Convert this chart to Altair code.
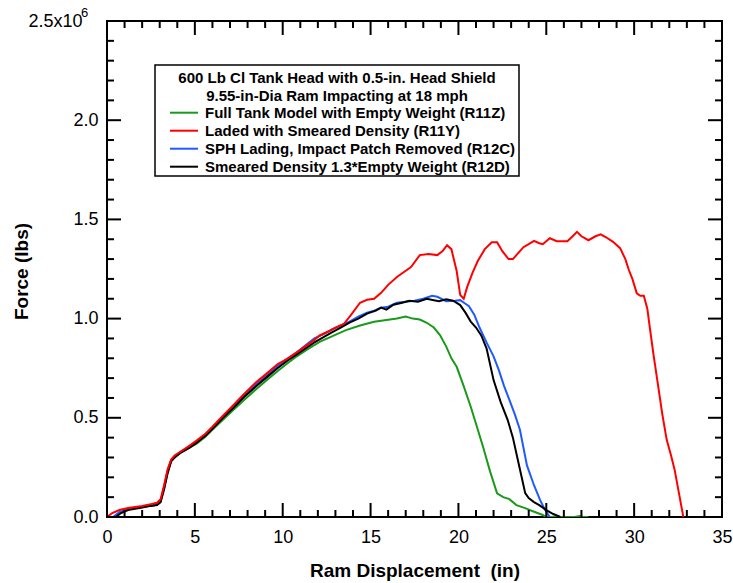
import altair as alt
import pandas as pd

# ---------------- data ----------------
series_names = [
    "Full Tank Model with Empty Weight (R11Z)",
    "Laded with Smeared Density (R11Y)",
    "SPH Lading, Impact Patch Removed (R12C)",
    "Smeared Density 1.3*Empty Weight (R12D)",
]
series_colors = ["#1a9a1a", "#ff0000", "#1e5aff", "#000000"]

# force in units of 1e6 lbs
green_x = [0.4, 0.8, 1.2, 2.0, 2.5, 2.85, 3.05, 3.25, 3.45, 3.65, 3.85, 4.2, 4.7, 5.1, 5.6, 6.0, 6.6, 7.2, 7.8,
           8.5, 9.1, 9.7, 10.2, 10.8, 11.4, 12.1, 12.8, 13.6, 14.4, 15.2, 16.1, 16.5, 17.0, 17.4, 17.8, 18.2,
           18.6, 18.95, 19.3, 19.6, 19.9, 20.3, 20.7, 21.0, 21.4, 21.8, 22.2, 22.55, 22.9, 23.3, 23.8, 24.2,
           24.5, 24.8, 25.0, 25.3, 25.6, 25.8, 26.2, 26.6, 26.9, 27.1, 27.4]
green_y = [0, 0.025, 0.04, 0.05, 0.058, 0.062, 0.08, 0.15, 0.23, 0.285, 0.30, 0.325, 0.35, 0.37, 0.405, 0.44,
           0.49, 0.54, 0.59, 0.645, 0.69, 0.735, 0.77, 0.81, 0.845, 0.883, 0.91, 0.942, 0.965, 0.984, 0.996,
           1.0, 1.01, 1.0, 0.995, 0.979, 0.955, 0.917, 0.86, 0.80, 0.757, 0.66, 0.556, 0.47, 0.354, 0.23,
           0.119, 0.10, 0.09, 0.06, 0.045, 0.03, 0.02, 0.01, 0, 0, 0.004, 0, 0, 0, 0.005, 0, 0]

red_x = [0, 0.3, 0.7, 1.2, 2.0, 2.5, 2.85, 3.05, 3.25, 3.45, 3.65, 3.85, 4.2, 4.7, 5.1, 5.6, 6.0, 6.6, 7.2, 7.8,
         8.5, 9.1, 9.7, 10.3, 10.8, 11.2, 11.7, 12.1, 12.6, 13.0, 13.5, 13.9, 14.4, 14.8, 15.2, 15.6, 16.0,
         16.5, 16.9, 17.3, 17.8, 18.3, 18.8, 19.1, 19.35, 19.6, 19.9, 20.1, 20.3, 20.5, 20.8, 21.1, 21.5, 21.9,
         22.2, 22.5, 22.85, 23.1, 23.4, 23.7, 24.0, 24.3, 24.6, 24.8, 25.2, 25.6, 26.2, 26.5, 26.75, 27.0,
         27.4, 27.8, 28.1, 28.4, 28.8, 29.2, 29.5, 29.7, 29.9, 30.15, 30.35, 30.55, 30.75, 30.9, 31.1, 31.3,
         31.6, 31.85, 32.1, 32.3, 32.55, 32.8]
red_y = [0, 0.02, 0.035, 0.045, 0.055, 0.065, 0.072, 0.09, 0.16, 0.24, 0.29, 0.31, 0.33, 0.36, 0.385, 0.42,
         0.455, 0.51, 0.565, 0.62, 0.68, 0.724, 0.77, 0.80, 0.83, 0.855, 0.885, 0.915, 0.935, 0.955, 0.975,
         1.02, 1.08, 1.095, 1.10, 1.13, 1.17, 1.21, 1.235, 1.26, 1.32, 1.325, 1.32, 1.34, 1.37, 1.35, 1.24,
         1.12, 1.10, 1.16, 1.23, 1.29, 1.35, 1.385, 1.385, 1.34, 1.30, 1.30, 1.33, 1.36, 1.375, 1.392, 1.38,
         1.375, 1.405, 1.39, 1.39, 1.415, 1.437, 1.415, 1.395, 1.415, 1.425, 1.41, 1.387, 1.355, 1.30, 1.245,
         1.20, 1.127, 1.115, 1.115, 1.05, 0.95, 0.82, 0.70, 0.52, 0.39, 0.31, 0.24, 0.12, 0]

blue_x = [0.35, 0.7, 1.2, 2.0, 2.5, 2.85, 3.05, 3.25, 3.45, 3.65, 3.85, 4.2, 4.7, 5.1, 5.6, 6.0, 6.6, 7.2, 7.8,
          8.5, 9.1, 9.7, 10.3, 10.8, 11.3, 11.8, 12.3, 12.8, 13.3, 13.8, 14.3, 14.8, 15.2, 15.6, 16.0, 16.5,
          17.0, 17.5, 18.0, 18.5, 18.8, 19.3, 19.8, 20.1, 20.4, 20.6, 20.9, 21.2, 21.6, 22.0, 22.3, 22.6, 22.9,
          23.2, 23.5, 23.9, 24.3, 24.65, 24.9, 25.2]
blue_y = [0, 0.025, 0.04, 0.05, 0.058, 0.062, 0.08, 0.15, 0.23, 0.285, 0.305, 0.33, 0.355, 0.38, 0.415, 0.45,
          0.505, 0.56, 0.615, 0.67, 0.715, 0.76, 0.80, 0.83, 0.865, 0.90, 0.92, 0.945, 0.965, 0.985, 1.01,
          1.03, 1.04, 1.055, 1.06, 1.08, 1.085, 1.09, 1.10, 1.115, 1.11, 1.088, 1.09, 1.093, 1.075, 1.063,
          1.02, 0.955, 0.88, 0.81, 0.74, 0.66, 0.59, 0.52, 0.44, 0.26, 0.16, 0.085, 0.04, 0]

black_x = [0.5, 0.8, 1.2, 2.0, 2.5, 2.85, 3.05, 3.25, 3.45, 3.65, 3.85, 4.2, 4.7, 5.1, 5.6, 6.0, 6.6, 7.2, 7.8,
           8.5, 9.1, 9.7, 10.3, 10.8, 11.3, 11.8, 12.3, 12.8, 13.3, 13.8, 14.3, 14.8, 15.3, 15.6, 15.9, 16.3,
           16.8, 17.2, 17.7, 18.2, 18.6, 18.9, 19.3, 19.7, 20.1, 20.4, 20.7, 21.0, 21.3, 21.6, 22.0, 22.4, 22.8,
           23.1, 23.35, 23.6, 23.8, 24.0, 24.3, 24.6, 25.0, 25.4, 25.8]
black_y = [0, 0.02, 0.035, 0.048, 0.056, 0.06, 0.075, 0.14, 0.22, 0.28, 0.30, 0.325, 0.35, 0.375, 0.41, 0.445,
           0.5, 0.55, 0.605, 0.66, 0.705, 0.75, 0.79, 0.82, 0.85, 0.88, 0.905, 0.93, 0.955, 0.98, 1.0, 1.025,
           1.04, 1.055, 1.045, 1.07, 1.08, 1.09, 1.085, 1.10, 1.093, 1.088, 1.097, 1.09, 1.068, 1.03, 0.985,
           0.955, 0.915, 0.85, 0.69, 0.58, 0.49, 0.40, 0.30, 0.2, 0.12, 0.095, 0.075, 0.06, 0.035, 0.015, 0]

x_major_ticks = [0, 5, 10, 15, 20, 25, 30, 35]
x_minor_ticks = [v for v in range(0, 36) if v % 5 != 0]
y_major_ticks = [0.0, 0.5, 1.0, 1.5, 2.0, 2.5]
y_minor_ticks = [round(v * 0.1, 1) for v in range(0, 26) if v % 5 != 0]

legend_title = ["600 Lb Cl Tank Head with 0.5-in. Head Shield", "9.55-in-Dia Ram Impacting at 18 mph"]

# ---------------- chart ----------------
W, H = 615, 496
FONT = "Liberation Sans"

xscale = alt.Scale(domain=[0, 35], nice=False, zero=False)
yscale = alt.Scale(domain=[0, 2.5], nice=False, zero=False)
cscale = alt.Scale(domain=series_names, range=series_colors)

x_axis = alt.Axis(values=x_major_ticks, ticks=False, domain=False, grid=False, labelFont=FONT,
                  labelFontSize=18, labelColor="black", labelPadding=11, labelFlush=False,
                  title="Ram Displacement\u00a0 (in)", titleFont=FONT, titleFontSize=19, titleFontWeight="bold",
                  titleColor="black", titlePadding=15)
y_axis = alt.Axis(values=y_major_ticks, ticks=False, domain=False, grid=False, labelFont=FONT,
                  labelFontSize=18, labelColor="black",
                  labelPadding={"condition": {"test": "datum.value == 2.5", "value": 25}, "value": 9},
                  labelFlush=False,
                  labelExpr="datum.value == 2.5 ? '2.5x10' : format(datum.value, '.1f')",
                  title="Force (lbs)", titleFont=FONT, titleFontSize=19, titleFontWeight="bold",
                  titleColor="black", titleX=-76, titleY=H / 2 + 2)

frames = []
for name, xs, ys in [(series_names[0], green_x, green_y), (series_names[1], red_x, red_y),
                     (series_names[2], blue_x, blue_y), (series_names[3], black_x, black_y)]:
    frames.append(pd.DataFrame({"x": xs, "force": ys, "series": name}))
df = pd.concat(frames, ignore_index=True)

draw_order = [series_names[0], series_names[2], series_names[3], series_names[1]]
line_layers = []
for name in draw_order:
    line_layers.append(
        alt.Chart(df[df["series"] == name]).mark_line(strokeWidth=2, clip=True).encode(
            x=alt.X("x:Q", scale=xscale, axis=x_axis),
            y=alt.Y("force:Q", scale=yscale, axis=y_axis),
            color=alt.Color("series:N", scale=cscale, legend=None),
            order=alt.Order("x:Q"),
        )
    )

# tick marks pointing inward on all four sides
tick_layers = []
for vals, length in [(x_major_ticks, 14), (x_minor_ticks, 7)]:
    tdf = pd.DataFrame({"x": vals})
    tick_layers.append(alt.Chart(tdf).mark_rule(color="black", strokeWidth=2).encode(
        x=alt.X("x:Q", scale=xscale, axis=x_axis), y=alt.value(H), y2=alt.value(H - length)))
    tick_layers.append(alt.Chart(tdf).mark_rule(color="black", strokeWidth=2).encode(
        x=alt.X("x:Q", scale=xscale, axis=x_axis), y=alt.value(0), y2=alt.value(length)))
for vals, length in [(y_major_ticks, 14), (y_minor_ticks, 7)]:
    tdf = pd.DataFrame({"force": vals})
    tick_layers.append(alt.Chart(tdf).mark_rule(color="black", strokeWidth=2).encode(
        y=alt.Y("force:Q", scale=yscale, axis=y_axis), x=alt.value(0), x2=alt.value(length)))
    tick_layers.append(alt.Chart(tdf).mark_rule(color="black", strokeWidth=2).encode(
        y=alt.Y("force:Q", scale=yscale, axis=y_axis), x=alt.value(W), x2=alt.value(W - length)))

one = pd.DataFrame({"k": [0]})

# superscript exponent for the top y label
exp_layer = alt.Chart(one).mark_text(text="6", font=FONT, fontSize=13, align="left", baseline="middle",
                                     color="black", dy=-8).encode(
    x=alt.value(-26), y=alt.value(0))

# legend box
legend_layers = [
    alt.Chart(one).mark_rect(fill="white", stroke="black", strokeWidth=1.5).encode(
        x=alt.value(48), x2=alt.value(412), y=alt.value(44), y2=alt.value(155))
]
for j, t in enumerate(legend_title):
    legend_layers.append(alt.Chart(one).mark_text(text=t, font=FONT, fontSize=15, fontWeight="bold",
                                                  align="center", baseline="middle", color="black").encode(
        x=alt.value(230), y=alt.value(57 + 18 * j)))
for i, (name, col) in enumerate(zip(series_names, series_colors)):
    yc = 91.7 + 18 * i
    legend_layers.append(alt.Chart(one).mark_rule(color=col, strokeWidth=2).encode(
        x=alt.value(63), x2=alt.value(91), y=alt.value(yc)))
    legend_layers.append(alt.Chart(one).mark_text(text=name, font=FONT, fontSize=15, fontWeight="bold",
                                                  align="left", baseline="middle", color="black").encode(
        x=alt.value(98), y=alt.value(yc)))

chart = alt.layer(*line_layers, *tick_layers, exp_layer, *legend_layers).properties(
    width=W, height=H,
    autosize=alt.AutoSizeParams(type="none"),
    padding={"left": 107, "top": 21, "right": 11, "bottom": 66},
    background="white",
).configure_view(stroke="black", strokeWidth=2)

chart.save("out.html", embed_options={"renderer": "svg", "actions": False})
